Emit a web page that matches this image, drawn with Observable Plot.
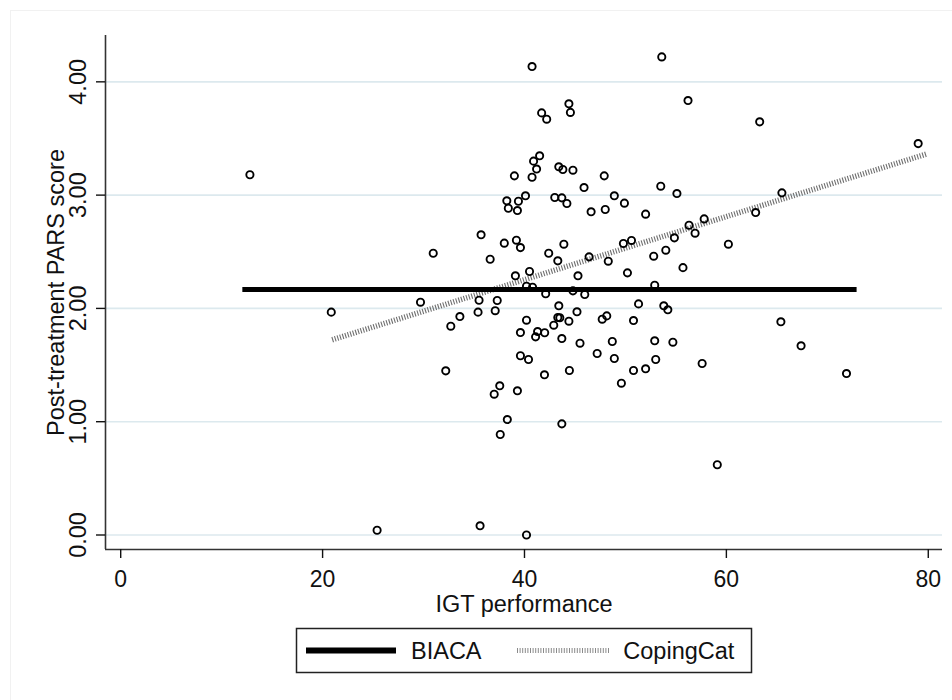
<!DOCTYPE html>
<html>
<head>
<meta charset="utf-8">
<script src="https://cdn.jsdelivr.net/npm/d3@7"></script>
<script src="https://cdn.jsdelivr.net/npm/@observablehq/plot@0.6"></script>
<style>
  html, body { margin: 0; padding: 0; background: #fff; }
  #wrap { position: relative; width: 952px; height: 700px; overflow: hidden; font-family: "Liberation Sans", Arial, sans-serif; }
  #outer { position: absolute; left: 10px; top: 10px; width: 960px; height: 720px; border-left: 1px solid #f1f1f1; border-top: 1px solid #f1f1f1; }
  #plot { position: absolute; left: 0; top: 0; }
  #legend { position: absolute; left: 0; top: 620px; }
</style>
</head>
<body>
<div id="wrap">
  <div id="outer"></div>
  <div id="plot"></div>
  <svg id="legend" width="952" height="80"></svg>
</div>
<script>
// ---- data ----
const igt = [
  40.75, 41.7, 42.2, 44.4, 44.55, 41.5, 40.9, 41.2, 39.0, 40.75,
  43.4, 43.8, 44.8, 47.9, 45.9, 40.1, 38.25, 39.4, 38.4, 39.3,
  43.0, 43.7, 44.2, 48.9, 49.9, 46.6, 48.0, 35.7, 30.96, 36.6,
  38.0, 39.2, 39.6, 42.4, 43.9, 43.3, 46.4, 48.3, 49.8, 50.6,
  39.1, 40.5, 45.3, 50.2, 40.2, 40.8, 44.8, 42.1, 45.97, 20.86,
  29.7, 35.5, 37.3, 35.4, 37.1, 33.6, 32.7, 43.4, 45.2, 43.3,
  43.5, 44.4, 40.2, 39.6, 41.3, 41.1, 42.0, 42.9, 43.7, 45.5,
  47.7, 48.15, 48.7, 47.2, 48.9, 39.6, 40.4, 32.2, 41.98, 44.45,
  49.6, 37.55, 37.0, 39.3, 38.3, 37.6, 43.7, 25.4, 35.6, 40.2,
  53.6, 56.2, 63.3, 79.0, 53.5, 55.1, 65.5, 62.9, 52.0, 57.8,
  56.3, 56.9, 54.85, 54.0, 52.8, 60.2, 55.7, 52.9, 51.3, 53.8,
  54.2, 50.8, 65.4, 67.4, 71.9, 52.9, 54.7, 53.0, 50.8, 52.0,
  57.6, 59.1, 12.8
];
const pars = [
  4.135, 3.726, 3.67, 3.806, 3.73, 3.347, 3.30, 3.23, 3.17, 3.158,
  3.25, 3.226, 3.22, 3.17, 3.067, 2.994, 2.95, 2.946, 2.884, 2.864,
  2.979, 2.976, 2.926, 2.994, 2.929, 2.853, 2.873, 2.65, 2.487, 2.434,
  2.576, 2.602, 2.537, 2.487, 2.567, 2.42, 2.455, 2.417, 2.573, 2.60,
  2.288, 2.326, 2.288, 2.314, 2.196, 2.187, 2.155, 2.129, 2.123, 1.967,
  2.055, 2.072, 2.07, 1.967, 1.98, 1.928, 1.843, 2.023, 1.97, 1.92,
  1.917, 1.887, 1.896, 1.787, 1.796, 1.749, 1.785, 1.852, 1.734, 1.693,
  1.905, 1.934, 1.708, 1.602, 1.558, 1.582, 1.549, 1.449, 1.414, 1.452,
  1.34, 1.317, 1.243, 1.273, 1.019, 0.887, 0.981, 0.042, 0.081, 0.0,
  4.22, 3.835, 3.647, 3.455, 3.079, 3.014, 3.02, 2.846, 2.832, 2.79,
  2.734, 2.664, 2.623, 2.514, 2.461, 2.567, 2.36, 2.205, 2.04, 2.023,
  1.988, 1.893, 1.882, 1.67, 1.425, 1.714, 1.702, 1.549, 1.452, 1.467,
  1.514, 0.62, 3.18
];
// fitted lines (endpoints)
const biacaX = [12.05, 72.9];
const biacaY = [2.167, 2.167];
const copingX = [20.95, 79.9];
const copingY = [1.723, 3.365];

const xTicks = [0, 20, 40, 60, 80];
const yTicks = [0, 1, 2, 3, 4];
const xLabel = "IGT performance";
const yLabel = "Post-treatment PARS score";
const seriesNames = ["BIACA", "CopingCat"];

// ---- build tables ----
const points = igt.map((x, i) => ({x, y: pars[i]}));
const biaca = biacaX.map((x, i) => ({x, y: biacaY[i]}));
const coping = copingX.map((x, i) => ({x, y: copingY[i]}));

const xDomain = [-1.506, 81.41];
const yDomain = [-0.128, 4.409];
const FONT = "'Liberation Sans', Arial, Helvetica, sans-serif";

const chart = Plot.plot({
  width: 952,
  height: 620,
  marginLeft: 105,
  marginRight: 10,
  marginTop: 35,
  marginBottom: 71,
  x: {domain: xDomain},
  y: {domain: yDomain},
  style: {fontFamily: FONT, fontSize: "23px", color: "#111", background: "transparent"},
  marks: [
    Plot.ruleY(yTicks, {stroke: "#dce9ee", strokeWidth: 1.6}),
    Plot.ruleX([xDomain[0]], {stroke: "#333", strokeWidth: 1.6}),
    Plot.ruleY([yDomain[0]], {stroke: "#333", strokeWidth: 1.6}),
    Plot.axisX({ticks: xTicks, tickSize: 9, tickPadding: 12, label: null, fontSize: 23, strokeWidth: 1.4}),
    Plot.axisY({ticks: yTicks, tickSize: 9, tickPadding: 11, tickRotate: -90, label: null,
                tickFormat: d3.format(".2f"), fontSize: 23.5, strokeWidth: 1.4}),
    Plot.line(coping, {x: "x", y: "y", stroke: "#6f6f6f", strokeWidth: 5.5, strokeDasharray: "1.1,1.6", strokeLinecap: "butt"}),
    Plot.line(biaca, {x: "x", y: "y", stroke: "#000", strokeWidth: 5, strokeLinecap: "butt"}),
    Plot.dot(points, {x: "x", y: "y", r: 3.6, stroke: "#000", strokeWidth: 1.9, fill: "none"}),
    Plot.text([yLabel], {text: d => d, frameAnchor: "left", dx: -41.5, rotate: -90,
                         textAnchor: "middle", lineAnchor: "bottom", fontSize: 23.5, fill: "#111"}),
    Plot.text([xLabel], {text: d => d, frameAnchor: "bottom", dy: 62,
                         textAnchor: "middle", lineAnchor: "bottom", fontSize: 23.5, fill: "#111"})
  ]
});
document.getElementById("plot").appendChild(chart);

// ---- legend (below the plot SVG) ----
const lg = d3.select("#legend");
lg.append("rect").attr("x", 296.5).attr("y", 8.5).attr("width", 455).attr("height", 44)
  .attr("fill", "#fff").attr("stroke", "#222").attr("stroke-width", 1.5);
lg.append("line").attr("x1", 306).attr("x2", 396).attr("y1", 30.5).attr("y2", 30.5)
  .attr("stroke", "#000").attr("stroke-width", 6);
lg.append("text").attr("x", 411).attr("y", 39.3).attr("font-family", FONT).attr("font-size", 23.5)
  .attr("fill", "#111").text(seriesNames[0]);
lg.append("line").attr("x1", 517).attr("x2", 610).attr("y1", 30.5).attr("y2", 30.5)
  .attr("stroke", "#8a8a8a").attr("stroke-width", 5).attr("stroke-dasharray", "1,1.6");
lg.append("text").attr("x", 623.3).attr("y", 39.3).attr("font-family", FONT).attr("font-size", 23.5)
  .attr("fill", "#111").text(seriesNames[1]);
</script>
</body>
</html>
